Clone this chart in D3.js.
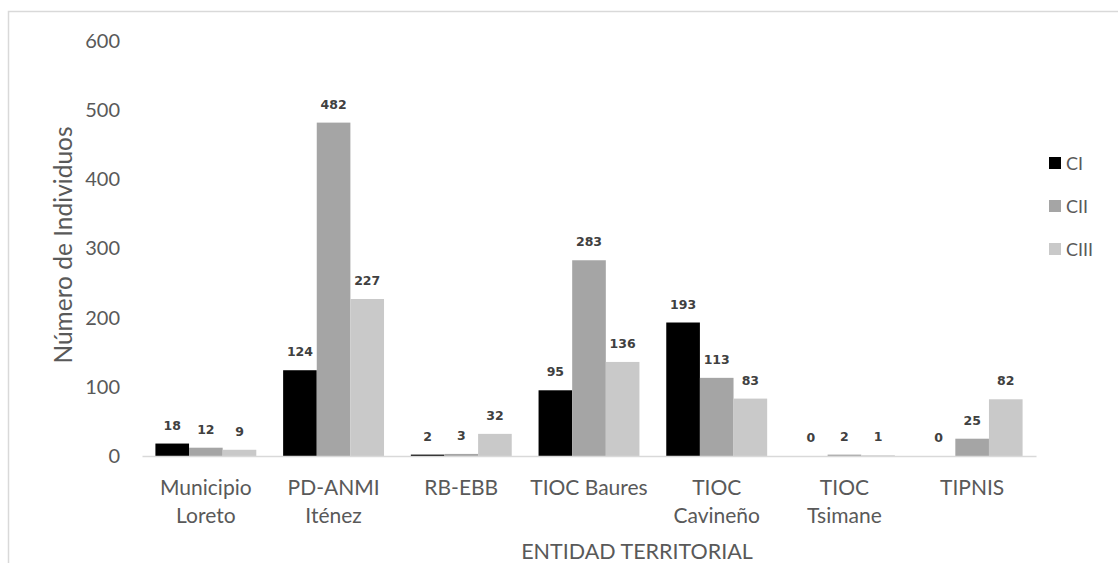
<!DOCTYPE html>
<html>
<head>
<meta charset="utf-8">
<script src="https://cdn.jsdelivr.net/npm/d3@7"></script>
<style>
  html, body { margin: 0; padding: 0; background: #fff; }
  svg { display: block; font-family: Lato, "Open Sans", sans-serif; }
</style>
</head>
<body>
<svg id="chart" width="1118" height="563"></svg>
<script>
// Territorial entities (two-line labels) and individuals per size class
const categories = [
  ["Municipio", "Loreto"],
  ["PD-ANMI", "Iténez"],
  ["RB-EBB"],
  ["TIOC Baures"],
  ["TIOC", "Cavineño"],
  ["TIOC", "Tsimane"],
  ["TIPNIS"]
];
const seriesNames = ["CI", "CII", "CIII"];
const valuesCI   = [18, 124, 2, 95, 193, 0, 0];
const valuesCII  = [12, 482, 3, 283, 113, 2, 25];
const valuesCIII = [9, 227, 32, 136, 83, 1, 82];
const yTicks = [0, 100, 200, 300, 400, 500, 600];
const colors = ["#000000", "#a5a5a5", "#c9c9c9"];

const series = [valuesCI, valuesCII, valuesCIII];
const catKeys = categories.map(c => c.join(" "));

const svg = d3.select("#chart");

// chart frame (partially visible, light grey)
svg.append("path")
  .attr("d", "M8.5,563 V11.5 H1118")
  .attr("fill", "none")
  .attr("stroke", "#d9d9d9")
  .attr("stroke-width", 1.5);

const plot = { left: 142, right: 1036, top: 41, bottom: 456 };

const x0 = d3.scaleBand()
  .domain(catKeys)
  .range([plot.left, plot.right])
  .paddingInner(0.21)
  .paddingOuter(0.105);

const x1 = d3.scaleBand()
  .domain(seriesNames)
  .range([0, x0.bandwidth()]);

const y = d3.scaleLinear()
  .domain([0, 600])
  .range([plot.bottom, plot.top]);

// y axis tick labels (no axis line)
const yAxis = svg.append("g")
  .attr("transform", `translate(${plot.left - 22},0)`)
  .call(d3.axisLeft(y).tickValues(yTicks).tickSize(0).tickPadding(0));
yAxis.select(".domain").remove();
yAxis.selectAll("text")
  .attr("font-family", "Lato, 'Open Sans', sans-serif")
  .attr("font-size", 20)
  .attr("fill", "#595959");

// bars
const groups = svg.append("g").selectAll("g")
  .data(catKeys)
  .join("g")
  .attr("transform", d => `translate(${x0(d)},0)`);

groups.selectAll("rect")
  .data((d, i) => seriesNames.map((s, j) => ({ s, v: series[j][i], c: colors[j] })))
  .join("rect")
  .attr("x", d => x1(d.s))
  .attr("width", x1.bandwidth())
  .attr("y", d => y(d.v))
  .attr("height", d => y(0) - y(d.v))
  .attr("fill", d => d.c);

// value labels
groups.selectAll("text")
  .data((d, i) => seriesNames.map((s, j) => ({ s, v: series[j][i] })))
  .join("text")
  .attr("x", d => x1(d.s) + x1.bandwidth() / 2)
  .attr("y", d => y(d.v) - 14)
  .attr("text-anchor", "middle")
  .attr("font-family", "'DejaVu Sans', Verdana, sans-serif")
  .attr("font-weight", "bold")
  .attr("font-size", 12.5)
  .attr("fill", "#404040")
  .text(d => d.v);

// x axis line
const xAxis = svg.append("g")
  .attr("transform", `translate(0,${plot.bottom})`)
  .call(d3.axisBottom(x0).tickSize(0).tickFormat(""));
xAxis.select(".domain")
  .attr("stroke", "#d9d9d9")
  .attr("stroke-width", 1.5);

// category labels, one tspan per line
const catLabels = svg.append("g").selectAll("text")
  .data(categories)
  .join("text")
  .attr("x", (d, i) => x0(catKeys[i]) + x0.bandwidth() / 2)
  .attr("y", 494.5)
  .attr("text-anchor", "middle")
  .attr("font-size", 21)
  .attr("fill", "#595959");
catLabels.selectAll("tspan")
  .data(d => d)
  .join("tspan")
  .attr("x", function() { return this.parentNode.getAttribute("x"); })
  .attr("dy", (d, i) => i === 0 ? 0 : 28)
  .text(d => d);

// axis titles
svg.append("text")
  .attr("x", 637)
  .attr("y", 558.5)
  .attr("text-anchor", "middle")
  .attr("font-size", 21.5)
  .attr("fill", "#595959")
  .text("ENTIDAD TERRITORIAL");

svg.append("text")
  .attr("transform", "translate(72,245) rotate(-90)")
  .attr("text-anchor", "middle")
  .attr("font-size", 24.5)
  .attr("fill", "#595959")
  .text("Número de Individuos");

// legend
const legend = svg.append("g").selectAll("g")
  .data(seriesNames)
  .join("g")
  .attr("transform", (d, i) => `translate(1049,${163 + i * 43})`);
legend.append("rect")
  .attr("x", 0).attr("y", -6)
  .attr("width", 12).attr("height", 12)
  .attr("fill", (d, i) => colors[i]);
legend.append("text")
  .attr("x", 17).attr("y", 6.5)
  .attr("font-size", 18)
  .attr("fill", "#595959")
  .text(d => d);
</script>
</body>
</html>
